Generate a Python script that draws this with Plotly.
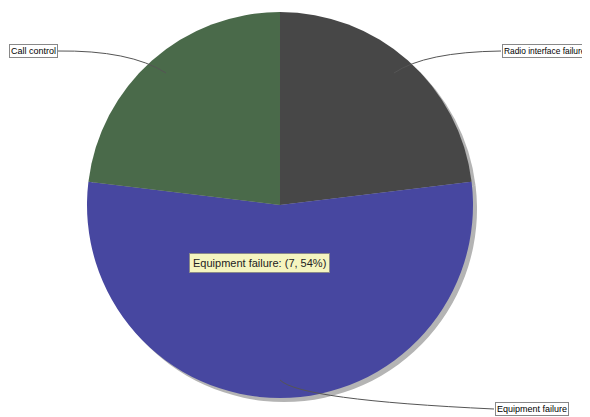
import plotly.graph_objects as go

categories = ["Radio interface failure", "Equipment failure", "Call control"]
values = [3, 7, 3]
colors = ["#474747", "#4747a0", "#4a6a4a"]

# page body adds an 8px margin; size the figure to fit the window
OFF = 8
W, H = 590 - OFF, 417 - OFF
cx, cy, r = 280, 205, 193

def px(x):
    return (x - OFF) / W

def py(y):
    return 1 - (y - OFF) / H

fig = go.Figure()

# shadow
sd = 4
fig.add_trace(go.Pie(
    labels=categories, values=values, sort=False, direction="clockwise", rotation=0,
    marker=dict(colors=["#b4b4b4"] * 3, line=dict(width=0)),
    textinfo="none", hoverinfo="skip", showlegend=False,
    domain=dict(x=[px(cx - r + sd), px(cx + r + sd)], y=[py(cy + r + sd), py(cy - r + sd)]),
))
fig.add_trace(go.Pie(
    labels=categories, values=values, sort=False, direction="clockwise", rotation=0,
    marker=dict(colors=colors, line=dict(width=0)),
    textinfo="none", showlegend=False,
    domain=dict(x=[px(cx - r), px(cx + r)], y=[py(cy + r), py(cy - r)]),
))

def path(pts):
    (x0, y0), (x1, y1), (x2, y2) = pts
    return f"M {px(x0)} {py(y0)} Q {px(x1)} {py(y1)} {px(x2)} {py(y2)}"

lines = [
    [(57, 51), (130, 50), (166, 73)],
    [(501, 51), (425, 52), (394, 73)],
    [(494, 409), (300, 400), (280, 380)],
]
shapes = [dict(type="path", xref="paper", yref="paper", path=path(p),
               line=dict(color="#555555", width=1)) for p in lines]

labels = [
    dict(text="Call control", x=px(9), y=py(51), size=9),
    dict(text="Radio interface failure", x=px(502), y=py(51), size=8.4),
    dict(text="Equipment failure", x=px(495), y=py(409), size=9),
]
annotations = []
for a in labels:
    annotations.append(dict(text=a["text"], x=a["x"], y=a["y"], xref="paper", yref="paper",
                            xanchor="left", yanchor="middle", showarrow=False,
                            font=dict(family="Liberation Sans, Arial", size=a["size"], color="#000000"),
                            bgcolor="#ffffff", bordercolor="#888888", borderwidth=1, borderpad=1))

annotations.append(dict(text="Equipment failure: (7, 54%)", x=px(189), y=py(263), xref="paper", yref="paper",
                        xanchor="left", yanchor="middle", showarrow=False,
                        font=dict(family="Liberation Sans, Arial", size=11, color="#222222"),
                        bgcolor="#f5f5c0", bordercolor="#8a8a8a", borderwidth=1, borderpad=3))

fig.update_layout(
    width=W, height=H, margin=dict(l=0, r=0, t=0, b=0),
    paper_bgcolor="#ffffff", plot_bgcolor="#ffffff",
    shapes=shapes, annotations=annotations, showlegend=False,
)

fig.write_html("out.html")
